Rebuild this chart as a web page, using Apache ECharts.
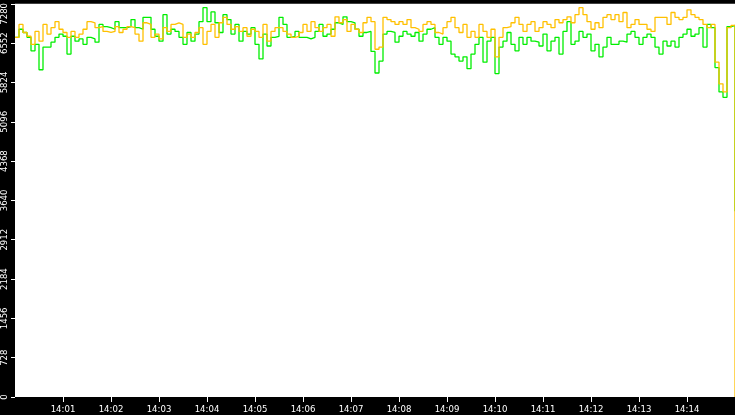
<!DOCTYPE html>
<html>
<head>
<meta charset="utf-8">
<script src="https://cdn.jsdelivr.net/npm/echarts@6/dist/echarts.min.js"></script>
<style>
html,body{margin:0;padding:0;background:#000;}
#c{width:735px;height:415px;}
</style>
</head>
<body>
<div id="c"></div>
<script>
const stepSeconds = 5;
const xTickLabels = ['14:00','14:01','14:02','14:03','14:04','14:05','14:06','14:07','14:08','14:09','14:10','14:11','14:12','14:13','14:14','14:15'];
const yTicks = [0,728,1456,2184,2912,3640,4368,5096,5824,6552,7280];

const orangeValues = [
6660,6900,6750,6680,6530,6770,6590,6900,6720,6840,6950,6810,6750,6660,6770,6660,6720,6810,6950,6930,6840,6860,6770,6750,6770,6860,6750,6810,6860,6840,
6720,6590,6930,6900,6660,6720,6630,6840,6770,6900,6930,6900,6660,6720,6660,6750,6840,6530,6770,6900,6660,6930,7030,6900,6810,6860,6770,6840,6680,6810,
6770,6660,6900,6590,6770,6840,6840,6770,6720,6660,6680,6750,6900,6770,6950,6840,6770,6840,6900,6680,7040,6930,6990,6770,6900,6810,6750,6930,7030,6950,
6440,6480,7030,6990,6950,6900,6950,6900,6990,6840,6810,6770,6900,6950,6900,6750,6720,6840,6950,7030,6840,6750,6900,6660,6770,6660,6900,6770,6660,6810,
6300,6660,6840,6860,6930,7030,6900,6770,6900,6950,6770,6840,6950,6900,6840,6990,6930,6990,7040,6930,7080,7210,7080,6950,6810,6930,6840,7030,7080,6990,
7080,6950,7120,6840,6900,6990,6900,6900,6810,6770,7030,7030,7030,6900,7120,7030,6990,7030,7170,7080,7030,6990,6900,6840,6900,6200,5800,5650,6840,6880,
0];

const greenValues = [
6660,6810,6750,6660,6410,6530,6060,6480,6480,6570,6660,6720,6680,6350,6680,6590,6630,6530,6660,6630,6570,6900,6860,6840,6810,6950,6840,6840,6860,6990,
6840,6810,7030,7030,6810,6680,6590,7080,6720,6810,6770,6660,6530,6750,6590,6720,6950,7210,6950,7130,6930,6750,7080,6990,6720,6900,6590,6770,6720,6840,
6530,6260,6720,6500,6660,6680,7030,6900,6660,6680,6770,6660,6660,6630,6660,6770,6900,6680,6720,6810,6930,6900,7040,6950,6930,6810,6680,6750,6770,6400,
6000,6220,6720,6770,6750,6570,6680,6770,6720,6680,6750,6590,6720,6810,6840,6660,6530,6660,6590,6350,6300,6220,6300,6080,6350,6530,6660,6200,6590,6660,
5990,6480,6590,6750,6530,6410,6660,6530,6660,6590,6570,6500,6720,6410,6590,6660,6350,6770,6950,6530,6590,6770,6660,6720,6410,6530,6300,6480,6660,6530,
6530,6590,6570,6720,6770,6660,6530,6660,6720,6660,6480,6350,6590,6500,6590,6480,6660,6720,6810,6680,6720,6840,6480,6900,6840,6100,5650,5550,6860,6880,
3440];

function toSeries(vals){
  return vals.map((v,i)=>[Math.min(i*stepSeconds, 900), v]);
}

const font = '"DejaVu Sans Condensed","DejaVu Sans",sans-serif';
const chart = echarts.init(document.getElementById('c'), null, {renderer:'canvas'});
chart.setOption({
  backgroundColor:'#000',
  animation:false,
  grid:{left:15,right:0,top:0,bottom:16,show:true,backgroundColor:'#fff',borderWidth:0,containLabel:false},
  xAxis:{
    type:'value', min:0, max:900, interval:60,
    axisLine:{show:false},
    axisTick:{show:true,length:5,lineStyle:{color:'#fff',width:1}},
    splitLine:{show:false},
    axisLabel:{color:'#fff',fontSize:9.5,fontFamily:font,margin:8,showMinLabel:false,showMaxLabel:false,
      formatter:v=>xTickLabels[Math.round(v/60)]}
  },
  yAxis:{
    type:'value', min:yTicks[0], max:yTicks[yTicks.length-1], interval:728,
    axisLine:{show:false},
    axisTick:{show:true,length:4,lineStyle:{color:'#fff',width:1}},
    splitLine:{show:false},
    axisLabel:{color:'#fff',fontSize:9.5,fontFamily:font,rotate:90,margin:5,
      formatter:v=> v===yTicks[yTicks.length-1] ? '{top|'+v+'}' : String(v),
      rich:{top:{color:'#fff',fontSize:9.5,fontFamily:font,padding:[0,20,0,0]}}}
  },
  series:[
    {type:'line',data:toSeries(greenValues),step:'end',showSymbol:false,symbol:'none',
     lineStyle:{color:'#00ee00',width:1.3},itemStyle:{color:'#00ee00'}},
    {type:'line',data:toSeries(orangeValues),step:'end',showSymbol:false,symbol:'none',
     lineStyle:{color:'#ffc000',width:1.3},itemStyle:{color:'#ffc000'}}
  ]
});
</script>
</body>
</html>
